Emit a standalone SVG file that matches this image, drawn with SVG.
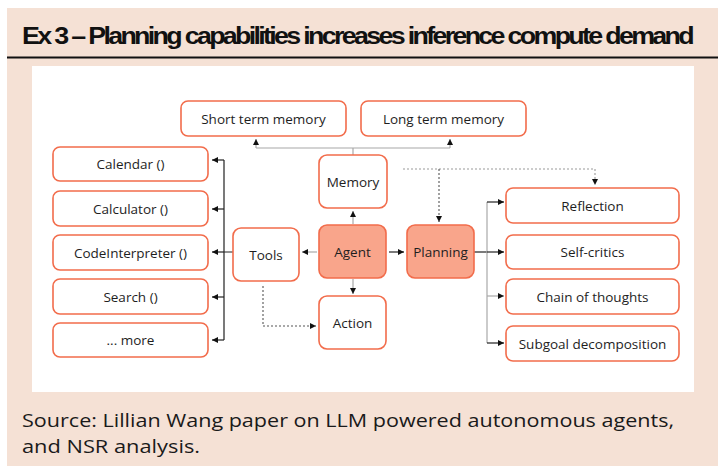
<svg xmlns="http://www.w3.org/2000/svg" width="718" height="466" viewBox="0 0 718 466">
<defs>
<marker id="ah" markerUnits="userSpaceOnUse" markerWidth="7" markerHeight="7" refX="6" refY="3" orient="auto">
<path d="M0,0 L6,3 L0,6 z" fill="#111"/>
</marker>
</defs>
<style>
.box{fill:#fff;stroke:#F26C4B;stroke-width:1.6}
.hot{fill:#F9A58B;stroke:#F26C4B;stroke-width:1.6}
.lbl{font-family:"Open Sans","Liberation Sans",sans-serif;font-size:13.5px;fill:#1e1e1e;text-anchor:middle;dominant-baseline:central}
.g{fill:none;stroke:#a8a8a8;stroke-width:1.2}
.k{fill:none;stroke:#222;stroke-width:1.2}
.d{fill:none;stroke:#555;stroke-width:1.1;stroke-dasharray:2 2}
.dg{fill:none;stroke:#999;stroke-width:1.1;stroke-dasharray:2 2}
</style>
<rect x="0" y="0" width="718" height="466" fill="#fff"/>
<rect x="7" y="8" width="711" height="458" fill="#F5E1D5"/>
<text x="22" y="44" font-family="Liberation Sans, sans-serif" font-weight="bold" font-size="24" letter-spacing="-2.4" fill="#111" textLength="670" lengthAdjust="spacingAndGlyphs">Ex 3 – Planning capabilities increases inference compute demand</text>
<line x1="7" y1="57.5" x2="718" y2="57.5" stroke="#111" stroke-width="2"/>
<rect x="32" y="66" width="662" height="326" fill="#fff"/>

<g id="connectors">
<path class="g" d="M353,155 V148 M256,148 H450"/>
<path class="g" d="M256,148 V139" marker-end="url(#ah)"/>
<path class="g" d="M450,148 V139" marker-end="url(#ah)"/>
<path class="g" d="M353,224 V211" marker-end="url(#ah)"/>
<path class="g" d="M353,279 V294" marker-end="url(#ah)"/>
<path class="g" d="M317,252 H302" marker-end="url(#ah)"/>
<path class="k" d="M389,252 H404" marker-end="url(#ah)"/>
<path class="k" d="M233,252 H224 M224,160 V340"/>
<path class="k" d="M224,160 H212" marker-end="url(#ah)"/>
<path class="k" d="M224,209 H212" marker-end="url(#ah)"/>
<path class="k" d="M224,252 H212" marker-end="url(#ah)"/>
<path class="k" d="M224,297 H212" marker-end="url(#ah)"/>
<path class="k" d="M224,340 H212" marker-end="url(#ah)"/>
<path class="d" d="M263,286 V326 H316" marker-end="url(#ah)"/>
<path class="dg" d="M403,169 H595 V185" marker-end="url(#ah)"/>
<path class="d" d="M439,169 V222" marker-end="url(#ah)"/>
<path class="k" d="M474,252 H487"/>
<path class="g" d="M487,202 V343"/>
<path class="k" d="M487,202 H504" marker-end="url(#ah)"/>
<path class="k" d="M487,252 H504" marker-end="url(#ah)"/>
<path class="g" d="M487,296 H504" marker-end="url(#ah)"/>
<path class="k" d="M487,343 H504" marker-end="url(#ah)"/>
</g>

<g id="short-term-memory"><rect class="box" x="181" y="101" width="165" height="35" rx="7"/><text class="lbl" x="263.5" y="118.5">Short term memory</text></g>
<g id="long-term-memory"><rect class="box" x="361" y="101" width="165" height="35" rx="7"/><text class="lbl" x="443.5" y="118.5">Long term memory</text></g>
<g id="memory"><rect class="box" x="319" y="155" width="68" height="53" rx="8"/><text class="lbl" x="353" y="181.5">Memory</text></g>
<g id="calendar"><rect class="box" x="53" y="147" width="155" height="34" rx="7"/><text class="lbl" x="130.5" y="164">Calendar ()</text></g>
<g id="calculator"><rect class="box" x="53" y="191" width="155" height="35" rx="7"/><text class="lbl" x="130.5" y="208.5">Calculator ()</text></g>
<g id="codeinterpreter"><rect class="box" x="53" y="235" width="155" height="35" rx="7"/><text class="lbl" x="130.5" y="252.5">CodeInterpreter ()</text></g>
<g id="search"><rect class="box" x="53" y="279" width="155" height="35" rx="7"/><text class="lbl" x="130.5" y="296.5">Search ()</text></g>
<g id="more"><rect class="box" x="53" y="323" width="155" height="34" rx="7"/><text class="lbl" x="130.5" y="340">... more</text></g>
<g id="tools"><rect class="box" x="233" y="228" width="66" height="53" rx="8"/><text class="lbl" x="266" y="254.5">Tools</text></g>
<g id="agent"><rect class="hot" x="319" y="225" width="67" height="53" rx="8"/><text class="lbl" x="352.5" y="251.5">Agent</text></g>
<g id="action"><rect class="box" x="319" y="296" width="67" height="53" rx="8"/><text class="lbl" x="352.5" y="322.5">Action</text></g>
<g id="planning"><rect class="hot" x="407" y="225" width="67" height="53" rx="8"/><text class="lbl" x="440.5" y="251.5">Planning</text></g>
<g id="reflection"><rect class="box" x="506" y="188" width="173" height="35" rx="7"/><text class="lbl" x="592.5" y="205.5">Reflection</text></g>
<g id="self-critics"><rect class="box" x="506" y="235" width="173" height="34" rx="7"/><text class="lbl" x="592.5" y="252">Self-critics</text></g>
<g id="chain-of-thoughts"><rect class="box" x="506" y="279" width="173" height="35" rx="7"/><text class="lbl" x="592.5" y="296.5">Chain of thoughts</text></g>
<g id="subgoal-decomposition"><rect class="box" x="506" y="326" width="173" height="35" rx="7"/><text class="lbl" x="592.5" y="343.5">Subgoal decomposition</text></g>

<text x="22" y="427" font-family="Open Sans, Liberation Sans, sans-serif" font-size="19" fill="#1a1a1a" textLength="652" lengthAdjust="spacingAndGlyphs">Source: Lillian Wang paper on LLM powered autonomous agents,</text>
<text x="22" y="453" font-family="Open Sans, Liberation Sans, sans-serif" font-size="19" fill="#1a1a1a" textLength="178" lengthAdjust="spacingAndGlyphs">and NSR analysis.</text>
</svg>
